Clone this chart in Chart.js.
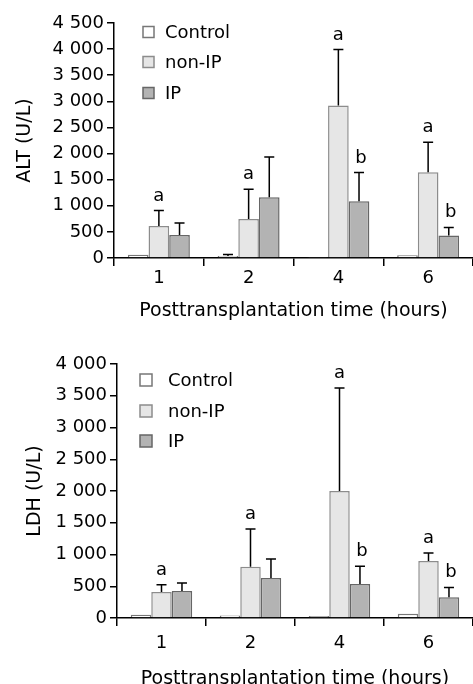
<!DOCTYPE html>
<html>
<head>
<meta charset="utf-8">
<script src="https://cdn.jsdelivr.net/npm/chart.js@4.4.1/dist/chart.umd.min.js"></script>
<style>
  html, body { margin: 0; padding: 0; background: #fff; }
  #wrap { position: relative; width: 473px; height: 684px; }
  canvas { position: absolute; left: 0; }
</style>
</head>
<body>
<div id="wrap">
  <canvas id="altChart" width="473" height="340" style="top:0"></canvas>
  <canvas id="ldhChart" width="473" height="344" style="top:340px"></canvas>
</div>
<script>
const HOURS = ['1', '2', '4', '6'];
const SERIES = ['Control', 'non-IP', 'IP'];

// ALT (U/L): mean and SD per group
const ALT_control = [60, 40, 20, 55];
const ALT_control_sd = [0, 25, 0, 0];
const ALT_nonIP = [611, 745, 2922, 1643];
const ALT_nonIP_sd = [298, 573, 1070, 573];
const ALT_IP = [439, 1165, 1089, 432];
const ALT_IP_sd = [229, 770, 546, 153];
const ALT_nonIP_marks = ['a', 'a', 'a', 'a'];
const ALT_IP_marks = ['', '', 'b', 'b'];

// LDH (U/L)
const LDH_control = [52, 40, 30, 68];
const LDH_control_sd = [0, 0, 0, 0];
const LDH_nonIP = [409, 808, 2000, 898];
const LDH_nonIP_sd = [115, 593, 1622, 126];
const LDH_IP = [425, 630, 535, 325];
const LDH_IP_sd = [126, 299, 278, 157];
const LDH_nonIP_marks = ['a', 'a', 'a', 'a'];
const LDH_IP_marks = ['', '', 'b', 'b'];

const FILLS = ['#ffffff', '#e6e6e6', '#b3b3b3'];
const EDGES = ['#777777', '#8c8c8c', '#666666'];

Chart.defaults.font.family = '"DejaVu Sans", Verdana, sans-serif';
Chart.defaults.font.size = 18;
Chart.defaults.color = '#000';

function spaced(v) {
  return String(v).replace(/\B(?=(\d{3})+(?!\d))/g, ' ');
}

const errorBars = {
  id: 'errorBars',
  afterDatasetsDraw(chart) {
    const ctx = chart.ctx;
    const y = chart.scales.y;
    ctx.save();
    ctx.strokeStyle = '#000';
    ctx.fillStyle = '#000';
    ctx.lineWidth = 1.5;
    ctx.font = '18px "DejaVu Sans", Verdana, sans-serif';
    ctx.textAlign = 'center';
    ctx.textBaseline = 'alphabetic';
    chart.data.datasets.forEach((ds, i) => {
      const meta = chart.getDatasetMeta(i);
      meta.data.forEach((bar, j) => {
        const sd = ds.sd[j];
        if (!sd) return;
        const top = y.getPixelForValue(ds.data[j] + sd);
        ctx.beginPath();
        ctx.moveTo(bar.x, bar.y);
        ctx.lineTo(bar.x, top);
        ctx.moveTo(bar.x - 5, top);
        ctx.lineTo(bar.x + 5, top);
        ctx.stroke();
        const mark = ds.marks ? ds.marks[j] : '';
        if (mark) ctx.fillText(mark, bar.x + (mark === 'b' ? 2 : 0), top - 10);
      });
    });
    ctx.restore();
  }
};

const boxLegend = {
  id: 'boxLegend',
  afterDraw(chart, args, opts) {
    const ctx = chart.ctx;
    const area = chart.chartArea;
    ctx.save();
    ctx.font = '18px "DejaVu Sans", Verdana, sans-serif';
    ctx.textAlign = 'left';
    ctx.textBaseline = 'middle';
    chart.data.datasets.forEach((ds, i) => {
      const x = area.left + opts.x;
      const cy = area.top + opts.rows[i];
      ctx.fillStyle = ds.backgroundColor;
      ctx.strokeStyle = ds.borderColor;
      ctx.lineWidth = 1.5;
      ctx.fillRect(x, cy - opts.box / 2, opts.box, opts.box);
      ctx.strokeRect(x, cy - opts.box / 2, opts.box, opts.box);
      ctx.fillStyle = '#000';
      ctx.fillText(SERIES[i], x + opts.gap, cy + 1);
    });
    ctx.restore();
  }
};

function makeChart(id, opt) {
  return new Chart(document.getElementById(id), {
    type: 'bar',
    data: {
      labels: HOURS,
      datasets: opt.series.map((s, i) => ({
        label: SERIES[i],
        data: s.data,
        sd: s.sd,
        marks: s.marks,
        backgroundColor: FILLS[i],
        borderColor: EDGES[i],
        borderWidth: 1.5,
        categoryPercentage: 0.69,
        barPercentage: 1
      }))
    },
    options: {
      responsive: false,
      animation: false,
      devicePixelRatio: 1,
      events: [],
      layout: { padding: { top: opt.padTop, left: 0, right: 0, bottom: 0 } },
      plugins: {
        legend: { display: false },
        tooltip: { enabled: false },
        boxLegend: opt.legend
      },
      scales: {
        x: {
          afterFit: s => { s.height = opt.xHeight; },
          border: { display: true, color: '#000', width: 1.5 },
          grid: { drawOnChartArea: false, tickLength: 8, color: '#000', lineWidth: 1.5, offset: true },
          ticks: { padding: opt.xTickPad, color: '#000' },
          title: { display: true, text: 'Posttransplantation time (hours)', color: '#000',
                   font: { size: 19 }, padding: { top: 0, bottom: opt.xTitlePad } }
        },
        y: {
          min: 0,
          max: opt.max,
          afterFit: s => { s.width = opt.yWidth; },
          border: { display: true, color: '#000', width: 1.5 },
          grid: { drawOnChartArea: false, tickLength: 7, color: '#000', lineWidth: 1.5 },
          ticks: { stepSize: 500, padding: 3, color: '#000', callback: v => spaced(v) },
          title: { display: true, text: opt.yTitle, color: '#000',
                   font: { size: 19 }, padding: { top: opt.yTitlePad, bottom: 0 } }
        }
      }
    },
    plugins: [errorBars, boxLegend]
  });
}

makeChart('altChart', {
  series: [
    { data: ALT_control, sd: ALT_control_sd },
    { data: ALT_nonIP, sd: ALT_nonIP_sd, marks: ALT_nonIP_marks },
    { data: ALT_IP, sd: ALT_IP_sd, marks: ALT_IP_marks }
  ],
  max: 4500,
  yTitle: 'ALT (U/L)',
  padTop: 23,
  xHeight: 82,
  yWidth: 114,
  xTickPad: 2,
  xTitlePad: 18,
  yTitlePad: 14,
  legend: { x: 29, rows: [9, 39, 70], box: 11, gap: 22 }
});

makeChart('ldhChart', {
  series: [
    { data: LDH_control, sd: LDH_control_sd },
    { data: LDH_nonIP, sd: LDH_nonIP_sd, marks: LDH_nonIP_marks },
    { data: LDH_IP, sd: LDH_IP_sd, marks: LDH_IP_marks }
  ],
  max: 4000,
  yTitle: 'LDH (U/L)',
  padTop: 24,
  xHeight: 66,
  yWidth: 117,
  xTickPad: 7,
  xTitlePad: -6,
  yTitlePad: 24,
  legend: { x: 23, rows: [16, 47, 77], box: 12, gap: 28 }
});
</script>
</body>
</html>
